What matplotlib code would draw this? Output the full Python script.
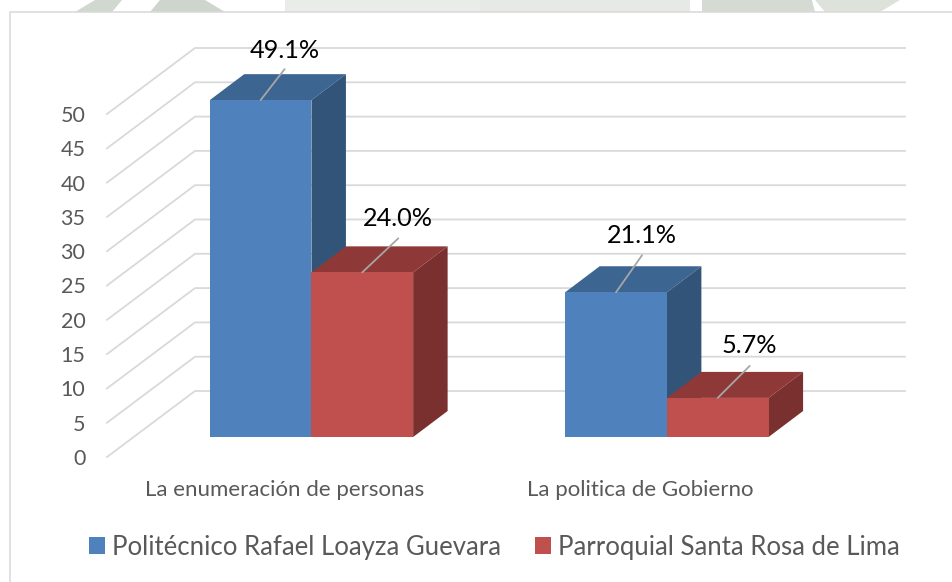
###############
### IMPORTS ###
###############

import matplotlib
matplotlib.use('Agg')
import matplotlib.pyplot as plt
from matplotlib.patches import Patch, Polygon

############
### DATA ###
############

categories = ['La enumeración de personas', 'La politica de Gobierno']
series_names = ['Politécnico Rafael Loayza Guevara', 'Parroquial Santa Rosa de Lima']
politecnico = [49.1, 21.1]
parroquial = [24.0, 5.7]
value_ticks = [0, 5, 10, 15, 20, 25, 30, 35, 40, 45, 50]

##############
### LAYOUT ###
##############

W, H = 953, 582
LEFT, RIGHT, TOP, BOTTOM = 107, 905, 48, 457

X_MIN, X_MAX = -0.5, 1.745
Y_MAX = 59.62
PX_X = (RIGHT - LEFT) / (X_MAX - X_MIN)
PX_Y = (BOTTOM - TOP) / Y_MAX

# depth of the floor, in data units
WALL_X = 88 / PX_X
WALL_Y = 66 / PX_Y
# where the bars stand on the floor and how deep they are
FLOOR_X = 26.7 / PX_X
FLOOR_Y = 20 / PX_Y
BAR_DX = 34.5 / PX_X
BAR_DY = 26 / PX_Y
BAR_W = 101.7 / PX_X

GRID = '#D9D9D9'
TEXT = '#595959'
BLUE = ('#4F81BD', '#3D6592', '#335479')
RED = ('#C0504D', '#8E3937', '#7B3030')
LEADER = '#A6A6A6'

# label centre and leader end, pixels from the front top edge centre of each bar
LABEL_OFFSETS = [(24, 50), (36, 54), (26, 57), (32, 52)]
LEADER_OFFSETS = [(24, 31), (36, 34), (26, 37), (32, 32)]

plt.rcParams['font.family'] = ['Lato', 'DejaVu Sans']

#################
### FUNCTIONS ###
#################

def draw_watermark(fig):
    # pale pieces of the page background above the chart frame
    pieces = [((75, 12), (95, 0), (122, 0), (112, 12), '#D0D8CF'),
              ((150, 12), (160, 0), (205, 0), (225, 12), '#CDD5CC'),
              ((285, 12), (285, 0), (480, 0), (480, 12), '#E9ECE8'),
              ((480, 12), (480, 0), (690, 0), (690, 12), '#E6E9E5'),
              ((702, 12), (702, 0), (812, 0), (815, 12), '#D5DBD3'),
              ((825, 12), (815, 0), (900, 0), (880, 12), '#DDE2DB')]
    for piece in pieces:
        points = [(x / W, 1 - y / H) for x, y in piece[:4]]
        fig.patches.append(Polygon(points, closed=True, facecolor=piece[4], edgecolor='none',
                                   transform=fig.transFigure))


def draw_frame(fig):
    # only top and left of the frame are inside the picture
    fig.add_artist(plt.Line2D([10 / W, 10 / W, 1], [0, 1 - 12 / H, 1 - 12 / H],
                              color='#D9D9D9', lw=1.1))


def draw_grid(ax):
    for tick in value_ticks:
        ax.plot([X_MIN, X_MIN + WALL_X, X_MAX], [tick, tick + WALL_Y, tick + WALL_Y],
                color=GRID, lw=1.3, zorder=1, clip_on=False, solid_joinstyle='miter')


def draw_bar(ax, left, value, colors):
    x0 = left + FLOOR_X
    x1 = x0 + BAR_W
    y0 = FLOOR_Y
    y1 = FLOOR_Y + value
    ax.fill([x0, x1, x1 + BAR_DX, x0 + BAR_DX], [y1, y1, y1 + BAR_DY, y1 + BAR_DY],
            color=colors[1], lw=0, zorder=3, clip_on=False)
    ax.fill([x1, x1 + BAR_DX, x1 + BAR_DX, x1], [y0, y0 + BAR_DY, y1 + BAR_DY, y1],
            color=colors[2], lw=0, zorder=3, clip_on=False)
    ax.bar(x0, value, width=BAR_W, bottom=y0, align='edge', color=colors[0], lw=0, zorder=3,
           clip_on=False)
    return x0 + BAR_W / 2, y1


def draw_label(ax, point, value, label_offset, leader_offset):
    ax.annotate('', xy=point, xytext=leader_offset, textcoords='offset pixels',
                arrowprops=dict(arrowstyle='-', color=LEADER, lw=1.3, shrinkA=0, shrinkB=0),
                zorder=5)
    ax.annotate('{:.1f}%'.format(value), xy=point, xytext=label_offset,
                textcoords='offset pixels', ha='center', va='center', fontsize=18.2,
                color='black', zorder=5)


def build_chart():
    fig = plt.figure(figsize=(W / 100, H / 100), dpi=100, facecolor='white')
    draw_watermark(fig)
    draw_frame(fig)

    ax = fig.add_axes([LEFT / W, 1 - BOTTOM / H, (RIGHT - LEFT) / W, (BOTTOM - TOP) / H])
    ax.set_xlim(X_MIN, X_MAX)
    ax.set_ylim(0, Y_MAX)
    ax.patch.set_visible(False)
    for spine in ax.spines.values():
        spine.set_visible(False)

    ax.set_yticks(value_ticks)
    ax.tick_params(axis='y', length=0, pad=15.5, labelsize=15.5, labelcolor=TEXT)
    ax.set_xticks(range(len(categories)))
    ax.set_xticklabels(categories)
    ax.tick_params(axis='x', length=0, pad=16.5, labelsize=16, labelcolor=TEXT)

    draw_grid(ax)

    tops = []
    for i in range(len(categories)):
        tops.append((draw_bar(ax, i - BAR_W, politecnico[i], BLUE), politecnico[i]))
        tops.append((draw_bar(ax, i, parroquial[i], RED), parroquial[i]))

    for (point, value), label_offset, leader_offset in zip(tops, LABEL_OFFSETS, LEADER_OFFSETS):
        draw_label(ax, point, value, label_offset, leader_offset)

    handles = [Patch(facecolor=BLUE[0], label=series_names[0]),
               Patch(facecolor=RED[0], label=series_names[1])]
    fig.legend(handles=handles, ncol=2, loc='center', bbox_to_anchor=(494.5 / W, 1 - 547 / H),
               frameon=False, fontsize=18.5, labelcolor=TEXT, handlelength=0.62, handleheight=0.62,
               handletextpad=0.27, columnspacing=1.32, borderpad=0, borderaxespad=0)
    return fig


#################
### EXECUTION ###
#################

build_chart().savefig('out.png', dpi=100)
